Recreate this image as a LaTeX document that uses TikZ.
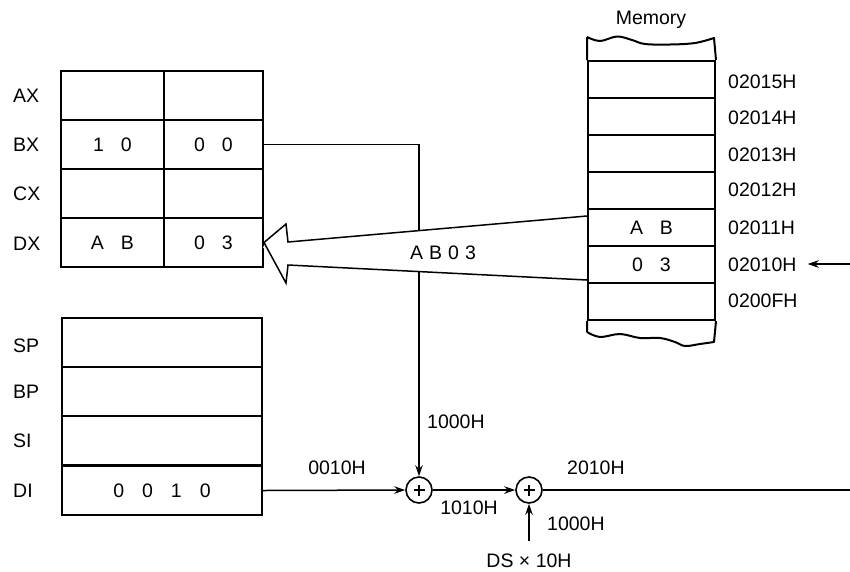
\documentclass[tikz,border=0pt]{standalone}
\usepackage{fontspec}
\setmainfont{Liberation Sans}
\usetikzlibrary{arrows.meta,calc}
\begin{document}
\begin{tikzpicture}[x=1pt,y=-1pt,
  txt/.style={font=\fontsize{19.5}{22}\selectfont, inner sep=0pt, text height=14pt, text depth=0pt},
  cell/.style={draw, line width=2pt, minimum height=49pt, anchor=north west, inner sep=0pt},
  mcell/.style={draw, line width=2pt, minimum height=37pt, minimum width=127pt, anchor=north west, inner sep=0pt},
  conn/.style={line width=1.5pt, -{Stealth[length=11pt,width=7.5pt]}},
  plainline/.style={line width=1.5pt},
  adder/.style={circle, draw, line width=1.6pt, minimum size=26pt, inner sep=0pt},
  plussign/.style={line width=1.3pt}
]
\useasboundingbox (0,0) rectangle (850,571);

% ---- general registers ----
\node[cell, minimum width=103pt] (axl) at (60,70) {};
\node[cell, minimum width=99pt]  (axr) at (163,70) {};
\node[cell, minimum width=103pt] (bxl) at (60,119) {};
\node[cell, minimum width=99pt]  (bxr) at (163,119) {};
\node[cell, minimum width=103pt] (cxl) at (60,168) {};
\node[cell, minimum width=99pt]  (cxr) at (163,168) {};
\node[cell, minimum width=103pt] (dxl) at (60,217) {};
\node[cell, minimum width=99pt]  (dxr) at (163,217) {};

\node[txt, anchor=west] (axlab) at (13,95) {AX};
\node[txt, anchor=west] (bxlab) at (13,144) {BX};
\node[txt, anchor=west] (cxlab) at (13,193) {CX};
\node[txt, anchor=west] (dxlab) at (13,243) {DX};

\node[txt] (bxlv) at (bxl.center) {1\hspace{17pt}0};
\node[txt] (bxrv) at (bxr.center) {0\hspace{17pt}0};
\node[txt] (dxlv) at (dxl.center) {A\hspace{17pt}B};
\node[txt] (dxrv) at (dxr.center) {0\hspace{17pt}3};

% ---- pointer / index registers ----
\node[cell, minimum width=200pt] (sp) at (61,317) {};
\node[cell, minimum width=200pt] (bp) at (61,366) {};
\node[cell, minimum width=200pt] (si) at (61,415) {};
\node[cell, minimum width=200pt] (di) at (61,465) {};

\node[txt, anchor=west] (splab) at (13,345) {SP};
\node[txt, anchor=west] (bplab) at (13,391) {BP};
\node[txt, anchor=west] (silab) at (13,440) {SI};
\node[txt, anchor=west] (dilab) at (13,490) {DI};
\node[txt] (div) at (di.center) {0\hspace{18pt}0\hspace{18pt}1\hspace{18pt}0};

% ---- memory ----
\node[txt] (memlab) at (651,17) {Memory};
\node[mcell] (m15) at (587,60) {};
\node[mcell] (m14) at (587,97) {};
\node[mcell] (m13) at (587,134) {};
\node[mcell] (m12) at (587,171) {};
\node[mcell] (m11) at (587,208) {};
\node[mcell] (m10) at (587,245) {};
\node[mcell] (m0f) at (587,282) {};
\node[txt] (m11v) at (m11.center) {A\hspace{17pt}B};
\node[txt] (m10v) at (m10.center) {0\hspace{17pt}3};

\draw[line width=2pt, line join=round] (m15.north west) -- (587,37)
  plot[smooth, tension=0.6] coordinates {(587,37) (600,41) (617,36.5) (632,40) (645,44) (670,44.5) (695,43) (714,38)}
  -- (m15.north east);
\draw[line width=2pt, line join=round] (m0f.south west) -- (587,332)
  plot[smooth, tension=0.6] coordinates {(587,332) (600,337) (620,334) (640,338) (660,338) (675,342) (685,346) (700,344) (714,342)}
  -- (m0f.south east);

\node[txt, anchor=west] (a15) at (728,81) {02015H};
\node[txt, anchor=west] (a14) at (728,117) {02014H};
\node[txt, anchor=west] (a13) at (728,154) {02013H};
\node[txt, anchor=west] (a12) at (728,189) {02012H};
\node[txt, anchor=west] (a11) at (728,227) {02011H};
\node[txt, anchor=west] (a10) at (728,264) {02010H};
\node[txt, anchor=west] (a0f) at (728,300) {0200FH};

\coordinate (ptr) at (850,264);
\draw[conn] (ptr) -- ([xshift=11pt]a10.east);

% ---- adders ----
\node[adder] (add1) at (419,490) {};
\node[adder] (add2) at (529,490) {};
\draw[plussign] ([xshift=-5.5pt]add1.center) -- ([xshift=5.5pt]add1.center)
                ([yshift=-5.5pt]add1.center) -- ([yshift=5.5pt]add1.center);
\draw[plussign] ([xshift=-5.5pt]add2.center) -- ([xshift=5.5pt]add2.center)
                ([yshift=-5.5pt]add2.center) -- ([yshift=5.5pt]add2.center);
\coordinate (outr) at (850,490);
\coordinate (dsin) at (529,541);

\draw[conn] (bxr.east) -- (bxr.east -| add1) -- (add1.north);
\draw[conn] (di.east) -- (add1.west);
\draw[conn] (add1.east) -- (add2.west);
\draw[plainline] (add2.east) -- (outr);
\draw[conn] (dsin) -- (add2.south);

% ---- big hollow arrow (memory -> DX) ----
\fill[white] (263,247) -- (286,224) -- (288,242) -- (586,216) -- (586,280) -- (288,265) -- (286,283) -- cycle;
\draw[line width=1.5pt, line join=miter] (587,216) -- (288,242) -- (286,224) -- (dxr.east) -- (286,283) -- (288,265) -- (587,280);
\node[txt] (ab03) at (443,252) {A\hspace{6pt}B\hspace{6pt}0\hspace{6pt}3};

% ---- value labels ----
\node[txt] (l0010) at (337,467) {0010H};
\node[txt, anchor=west] (l1000a) at (427,421) {1000H};
\node[txt] (l1010) at (469,507) {1010H};
\node[txt, anchor=west] (l1000b) at (547,523) {1000H};
\node[txt] (lds) at (529,560) {DS × 10H};
\node[txt, anchor=west] (l2010) at (567,467) {2010H};
\end{tikzpicture}
\end{document}
